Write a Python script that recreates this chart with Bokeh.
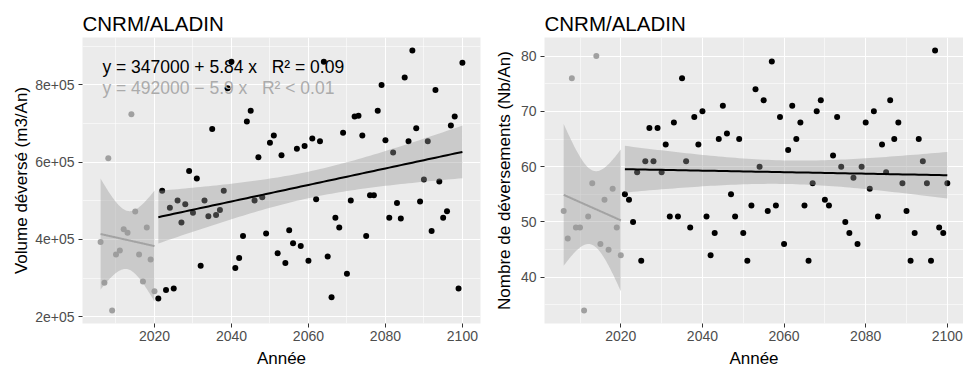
import numpy as np
from bokeh.plotting import figure
from bokeh.layouts import row
from bokeh.models import FixedTicker, Label, Range1d
from bokeh.embed import file_html
from bokeh.resources import INLINE

# ---------------- data ----------------
years_hist = list(range(2006, 2021))
years_fut = list(range(2021, 2101))

vol_hist = [393000, 288000, 610000, 216000, 361000, 371000, 426000, 417000,
            724000, 472000, 361000, 291000, 431000, 348000, 266000]
vol_fut = [247000, 526000, 269000, 482000, 273000, 501000, 444000, 491000, 577000, 469000,
           558000, 332000, 501000, 460000, 686000, 463000, 476000, 526000, 791000, 860000,
           326000, 352000, 409000, 705000, 733000, 501000, 613000, 509000, 415000, 650000,
           669000, 364000, 618000, 339000, 424000, 390000, 635000, 383000, 642000, 345000,
           661000, 504000, 654000, 860000, 356000, 250000, 456000, 431000, 676000, 311000,
           501000, 718000, 720000, 669000, 409000, 514000, 514000, 733000, 800000, 657000,
           456000, 625000, 494000, 454000, 819000, 654000, 889000, 688000, 498000, 555000,
           654000, 422000, 787000, 550000, 456000, 473000, 695000, 718000, 273000, 857000]

nb_hist = [52, 47, 76, 49, 49, 34, 51, 57, 80, 46, 54, 45, 56, 49, 44]
nb_fut = [55, 54, 50, 59, 43, 61, 67, 61, 67, 59,
          64, 51, 68, 51, 76, 61, 49, 69, 64, 70,
          51, 44, 48, 65, 71, 66, 55, 51, 65, 48,
          43, 53, 74, 60, 72, 52, 79, 53, 69, 46,
          63, 71, 65, 68, 53, 43, 57, 70, 72, 54,
          53, 62, 69, 60, 50, 48, 58, 46, 60, 68,
          56, 70, 51, 64, 59, 72, 65, 68, 57, 52,
          43, 48, 65, 61, 57, 43, 81, 49, 48, 57]

title_text = "CNRM/ALADIN"
x_label = "Année"
y_label_vol = "Volume déversé (m3/An)"
y_label_nb = "Nombre de déversements (Nb/An)"

x_ticks = [2020, 2040, 2060, 2080, 2100]
x_minor = [2010, 2030, 2050, 2070, 2090]
vol_ticks = [200000, 400000, 600000, 800000]
vol_tick_labels = ["2e+05", "4e+05", "6e+05", "8e+05"]
vol_minor = [300000, 500000, 700000, 900000]
nb_ticks = [40, 50, 60, 70, 80]
nb_minor = [35, 45, 55, 65, 75]

NB = "\u00a0"
eq_fut_vol = "y = 347000 + 5.84 x" + NB * 3 + "R² = 0.09"
eq_hist_vol = "y = 492000 − 5.9 x" + NB * 3 + "R² < 0.01"

# Student t quantiles (95 %) for df = 13 and df = 78
T_HIST = 2.1604
T_FUT = 1.9908

FONT = "Liberation Sans"
HIST_PT = "#A0A0A0"
HIST_LINE = "#A3A3A3"
BAND = "#999999"
H = 372


def fit_band(x, y, tval):
    x = np.asarray(x, float)
    y = np.asarray(y, float)
    n = len(x)
    b, a = np.polyfit(x, y, 1)
    xs = np.linspace(x.min(), x.max(), 80)
    yh = a + b * xs
    resid = y - (a + b * x)
    s = np.sqrt((resid ** 2).sum() / (n - 2))
    sxx = ((x - x.mean()) ** 2).sum()
    se = s * np.sqrt(1.0 / n + (xs - x.mean()) ** 2 / sxx)
    return xs, yh, yh - tval * se, yh + tval * se


def make_panel(yh, yf, ylab, yticks, yminor, overrides, width, left, frame_w, full_w,
               label_standoff):
    allx = years_hist + years_fut
    ally = list(yh) + list(yf)
    xspan = max(allx) - min(allx)
    x_lo = min(allx) - 0.05 * xspan
    x_hi_full = max(allx) + 0.05 * xspan
    x_hi = x_lo + (x_hi_full - x_lo) * frame_w / full_w
    yspan = max(ally) - min(ally)
    y_lo = min(ally) - 0.05 * yspan
    y_hi = max(ally) + 0.05 * yspan

    p = figure(width=width, height=H, output_backend="svg", toolbar_location=None,
               x_range=Range1d(x_lo, x_hi), y_range=Range1d(y_lo, y_hi),
               min_border_left=left, min_border_right=width - left - frame_w,
               min_border_top=37, min_border_bottom=49)
    p.background_fill_color = "#EBEBEB"
    p.border_fill_color = "white"
    p.outline_line_color = None

    p.title.text = title_text
    p.title.text_font = FONT
    p.title.text_font_size = "20.5px"
    p.title.text_font_style = "normal"
    p.title.text_color = "black"
    p.title.vertical_align = "middle"
    p.title.standoff = 4

    p.xaxis.ticker = FixedTicker(ticks=x_ticks, minor_ticks=x_minor)
    p.yaxis.ticker = FixedTicker(ticks=yticks, minor_ticks=yminor)
    if overrides:
        p.yaxis.major_label_overrides = overrides
    for ax in (p.xaxis, p.yaxis):
        ax.axis_line_color = None
        ax.major_tick_in = 0
        ax.major_tick_out = 4
        ax.major_tick_line_color = "#333333"
        ax.minor_tick_line_color = None
        ax.major_label_text_font = FONT
        ax.major_label_text_font_size = "14px"
        ax.major_label_text_color = "#4D4D4D"
        ax.axis_label_text_font = FONT
        ax.axis_label_text_font_size = "17px"
        ax.axis_label_text_font_style = "normal"
        ax.axis_label_text_color = "black"
    p.xaxis.major_label_standoff = 3
    p.yaxis.major_label_standoff = 4
    p.xaxis.axis_label = x_label
    p.xaxis.axis_label_standoff = 5
    p.yaxis.axis_label = ylab
    p.yaxis.axis_label_standoff = label_standoff

    for g in (p.xgrid, p.ygrid):
        g.grid_line_color = "white"
        g.grid_line_width = 1.1
        g.minor_grid_line_color = "white"
        g.minor_grid_line_width = 0.55

    # points
    p.scatter(years_hist, yh, size=6, color=HIST_PT, line_color=None)
    p.scatter(years_fut, yf, size=6, color="black", line_color=None)

    # smooth fits (drawn over the points, as in ggplot)
    xs, yhat, lo, hi = fit_band(years_hist, yh, T_HIST)
    p.varea(x=xs, y1=lo, y2=hi, fill_color=BAND, fill_alpha=0.4)
    p.line(xs, yhat, line_color=HIST_LINE, line_width=2)
    xs, yhat, lo, hi = fit_band(years_fut, yf, T_FUT)
    p.varea(x=xs, y1=lo, y2=hi, fill_color=BAND, fill_alpha=0.4)
    p.line(xs, yhat, line_color="black", line_width=2)
    return p, (x_lo, x_hi_full, y_lo, y_hi)


overrides = dict(zip(vol_ticks, vol_tick_labels))
p1, (x_lo, x_hi_full, y_lo, y_hi) = make_panel(vol_hist, vol_fut, y_label_vol, vol_ticks,
                                               vol_minor, overrides, 483, 82, 398, 398, 1)
lx = x_lo + 0.05 * (x_hi_full - x_lo)
for txt, frac, col in ((eq_fut_vol, 0.897, "black"), (eq_hist_vol, 0.822, "#ABABAB")):
    p1.add_layout(Label(x=lx, y=y_lo + frac * (y_hi - y_lo), text=txt,
                        text_font=FONT, text_font_size="17.5px", text_color=col,
                        text_baseline="middle", text_align="left"))

p2, _ = make_panel(nb_hist, nb_fut, y_label_nb, nb_ticks, nb_minor, None,
                   480, 61, 419, 422, 4)

layout = row(p1, p2, spacing=0)
open("out.html", "w").write(file_html(layout, INLINE))
